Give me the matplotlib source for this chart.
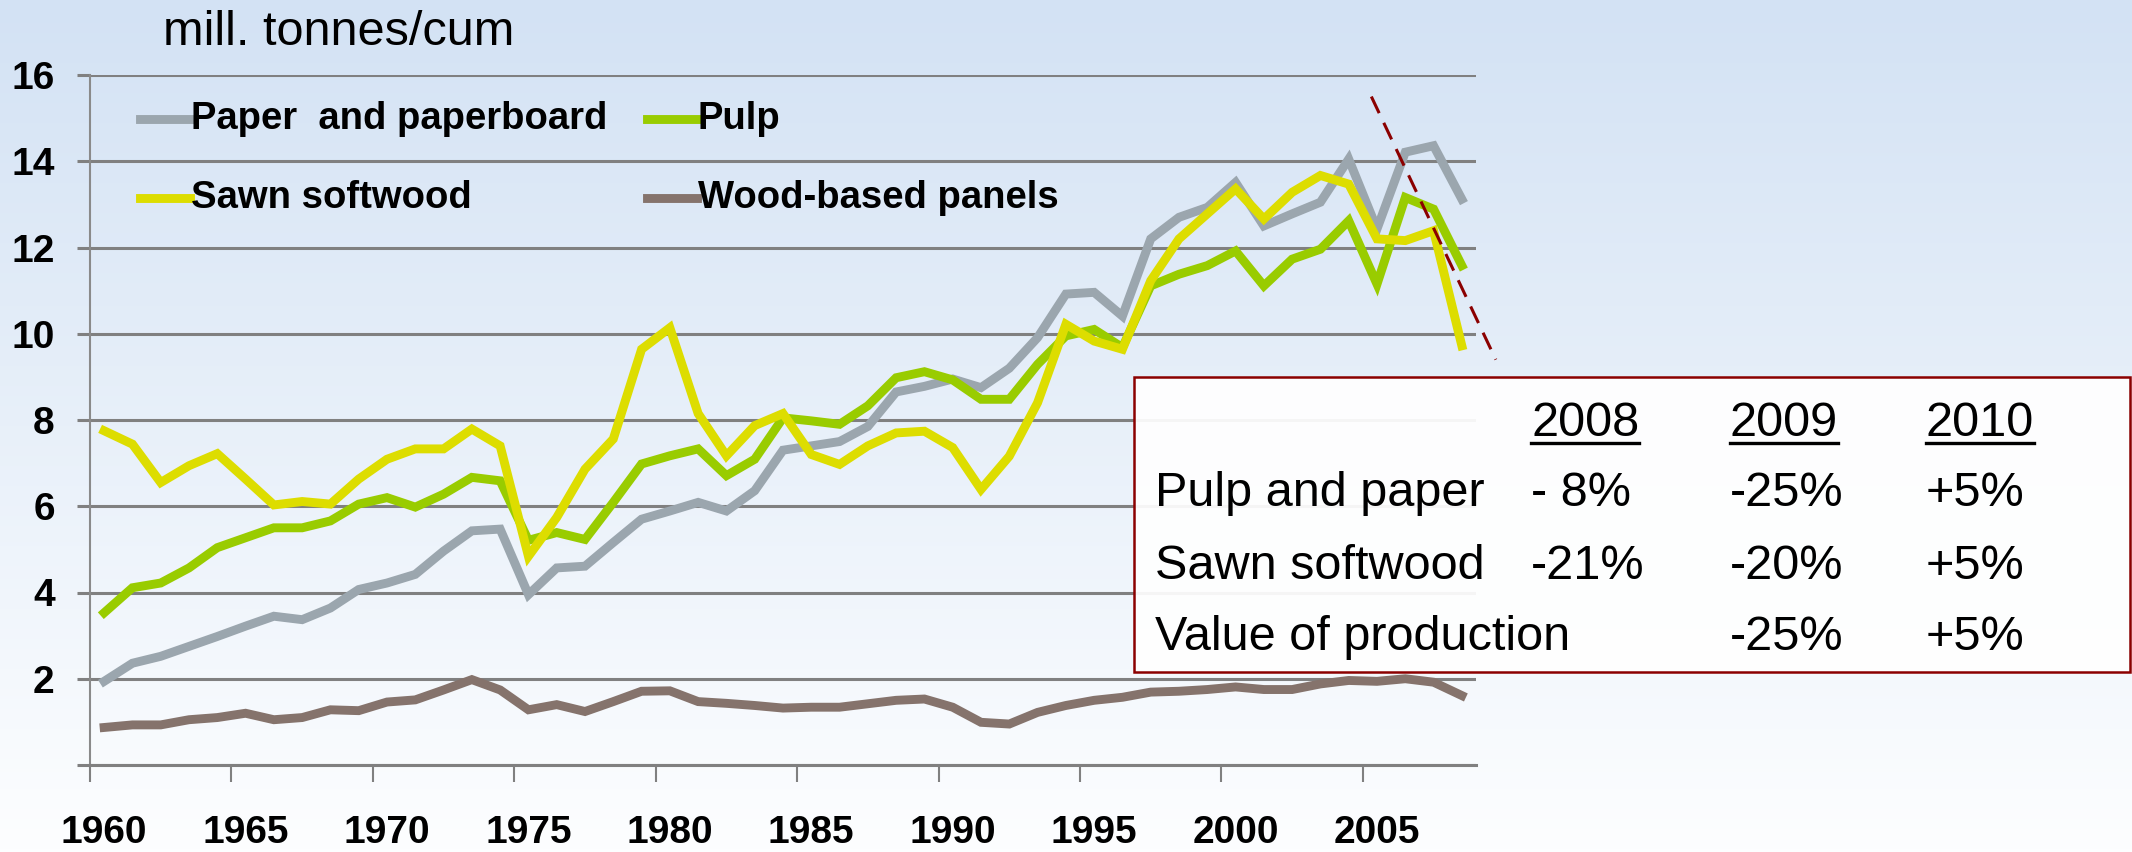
import matplotlib
matplotlib.use('Agg')
import matplotlib.pyplot as plt
import numpy as np
from matplotlib.lines import Line2D
from matplotlib.patches import Rectangle
from matplotlib.transforms import IdentityTransform

plt.rcParams['font.family'] = ['Liberation Sans', 'DejaVu Sans']

W, H = 2132, 852

years = list(range(1960, 2009))

paper = [1.94, 2.36, 2.52, 2.75, 2.98, 3.22, 3.45, 3.37, 3.64, 4.07,
         4.22, 4.42, 4.96, 5.43, 5.47, 3.95, 4.57, 4.61, 5.16, 5.70,
         5.89, 6.09, 5.89, 6.36, 7.30, 7.40, 7.50, 7.85, 8.65, 8.78,
         8.95, 8.75, 9.20, 9.91, 10.92, 10.96, 10.41, 12.20, 12.70, 12.93,
         13.51, 12.50, 12.78, 13.05, 14.05, 12.43, 14.21, 14.36, 13.12]
pulp = [3.53, 4.11, 4.22, 4.57, 5.04, 5.27, 5.50, 5.50, 5.66, 6.05,
        6.20, 5.98, 6.28, 6.67, 6.59, 5.21, 5.39, 5.23, 6.09, 6.98,
        7.17, 7.33, 6.71, 7.09, 8.05, 7.98, 7.90, 8.33, 8.98, 9.12,
        8.93, 8.48, 8.48, 9.29, 9.95, 10.10, 9.68, 11.11, 11.38, 11.58,
        11.92, 11.11, 11.73, 11.96, 12.62, 11.15, 13.16, 12.89, 11.58]
sawn = [7.75, 7.44, 6.55, 6.94, 7.22, 6.63, 6.03, 6.11, 6.05, 6.63,
        7.09, 7.33, 7.33, 7.79, 7.40, 4.84, 5.74, 6.86, 7.56, 9.64,
        10.14, 8.15, 7.17, 7.87, 8.15, 7.20, 6.97, 7.40, 7.70, 7.74,
        7.36, 6.39, 7.16, 8.40, 10.22, 9.83, 9.64, 11.23, 12.20, 12.78,
        13.36, 12.66, 13.28, 13.67, 13.47, 12.20, 12.16, 12.39, 9.72]
panels = [0.87, 0.93, 0.93, 1.05, 1.10, 1.20, 1.05, 1.10, 1.28, 1.26,
          1.46, 1.51, 1.74, 1.98, 1.74, 1.28, 1.40, 1.24, 1.47, 1.71,
          1.72, 1.47, 1.43, 1.38, 1.32, 1.34, 1.34, 1.42, 1.50, 1.53,
          1.34, 0.99, 0.95, 1.22, 1.38, 1.50, 1.57, 1.69, 1.71, 1.75,
          1.81, 1.75, 1.75, 1.88, 1.96, 1.94, 2.00, 1.92, 1.61]

series_labels = ['Paper  and paperboard', 'Pulp', 'Sawn softwood', 'Wood-based panels']
series_colors = ['#9ba6ae', '#99cc00', '#dddd00', '#85736c']

# dashed trend (data coords)
trend_x = [2004.8, 2009.2]
trend_y = [15.5, 9.4]

# forecast table
table_years = ['2008', '2009', '2010']
table_rows = ['Pulp and paper', 'Sawn softwood', 'Value of production']
table_cells = [['- 8%', '-25%', '+5%'],
               ['-21%', '-20%', '+5%'],
               ['', '-25%', '+5%']]


def fx(px):
    return px / W


def fy(py):
    return 1 - py / H


fig = plt.figure(figsize=(W / 100, H / 100), dpi=100)

# background gradient
bg = fig.add_axes([0, 0, 1, 1], zorder=-10)
top = np.array([211, 226, 244]) / 255
bottom = np.array([253, 254, 255]) / 255
t = np.linspace(0, 1, 256)[:, None]
grad = top[None, :] * (1 - t) + bottom[None, :] * t
bg.imshow(grad[:, None, :], aspect='auto', extent=[0, 1, 0, 1])
bg.set_axis_off()

ax = fig.add_axes([fx(90), fy(765), fx(1476) - fx(90), fy(75) - fy(765)])
ax.set_facecolor('none')

for vals, col in zip([paper, pulp, sawn, panels], series_colors):
    ax.plot(years, vals, color=col, lw=6.4, solid_joinstyle='miter', zorder=3)

ax.set_xlim(1959.5, 2008.5)
ax.set_ylim(0, 16)

# axes look
for s in ['top', 'right']:
    ax.spines[s].set_visible(False)
ax.spines['left'].set_color('#8a8a8a')
ax.spines['left'].set_linewidth(1.5)
ax.spines['bottom'].set_color('#808080')
ax.spines['bottom'].set_linewidth(2.2)

ax.set_yticks(np.arange(0, 17, 2))
ax.set_yticklabels([''] + [str(v) for v in range(2, 17, 2)])
ax.yaxis.grid(True, color='#808080', lw=2.2)
ax.tick_params(axis='y', length=9.4, width=2.2, color='#808080', pad=16,
               labelsize=28)

ax.set_xticks(np.arange(1959.5, 2008, 5))
ax.set_xticklabels([])
ax.set_xticks(np.arange(1960, 2008, 5), minor=True)
ax.set_xticklabels([str(y) for y in range(1960, 2008, 5)], minor=True)
ax.tick_params(axis='x', which='major', length=12, width=1.5, color='#808080')
ax.tick_params(axis='x', which='minor', length=0, pad=36, labelsize=28)
for lab in ax.get_xticklabels(minor=True) + ax.get_yticklabels():
    lab.set_fontweight('bold')

ax.plot(trend_x, trend_y, color='#8b0000', lw=2.2, dashes=(6, 3.5), clip_on=False, zorder=5)

# unit label
fig.text(fx(163), fy(45), 'mill. tonnes/cum', fontsize=35, va='baseline', ha='left')

# legend (drawn by hand to match the layout)
leg_pos = [(140, 119), (647, 119), (140, 198), (647, 198)]
for (lx, ly), lab, col in zip(leg_pos, series_labels, series_colors):
    fig.add_artist(Line2D([fx(lx), fx(lx + 50)], [fy(ly), fy(ly)], color=col, lw=6.4))
    fig.text(fx(lx + 51), fy(ly), lab, fontsize=27.5, fontweight='bold', va='center', ha='left')

# forecast box
box = Rectangle((fx(1134), fy(672)), fx(2130) - fx(1134), fy(377) - fy(672),
                transform=fig.transFigure, facecolor='white', alpha=0.93,
                edgecolor='none', zorder=4)
fig.add_artist(box)
fig.add_artist(Rectangle((fx(1134), fy(672)), fx(2130) - fx(1134), fy(377) - fy(672),
                         transform=fig.transFigure, facecolor='none',
                         edgecolor='#8b0000', lw=1.8, zorder=6))

col_x = [1531, 1730, 1926]
row_base = [506, 579, 650]
hdr_texts = []
for cx, yr in zip(col_x, table_years):
    hdr_texts.append(fig.text(fx(cx), fy(436), yr, fontsize=35, va='baseline', ha='left', zorder=7))
for ry, name, cells in zip(row_base, table_rows, table_cells):
    fig.text(fx(1155), fy(ry), name, fontsize=35, va='baseline', ha='left', zorder=7)
    for cx, c in zip(col_x, cells):
        if c:
            fig.text(fx(cx), fy(ry), c, fontsize=35, va='baseline', ha='left', zorder=7)

# underline the years
fig.canvas.draw()
renderer = fig.canvas.get_renderer()
for txt in hdr_texts:
    bb = txt.get_window_extent(renderer)
    fig.add_artist(Line2D([bb.x0, bb.x1], [H - 443, H - 443], transform=IdentityTransform(),
                          color='black', lw=2.4, zorder=7))

fig.savefig('out.png', dpi=100)
